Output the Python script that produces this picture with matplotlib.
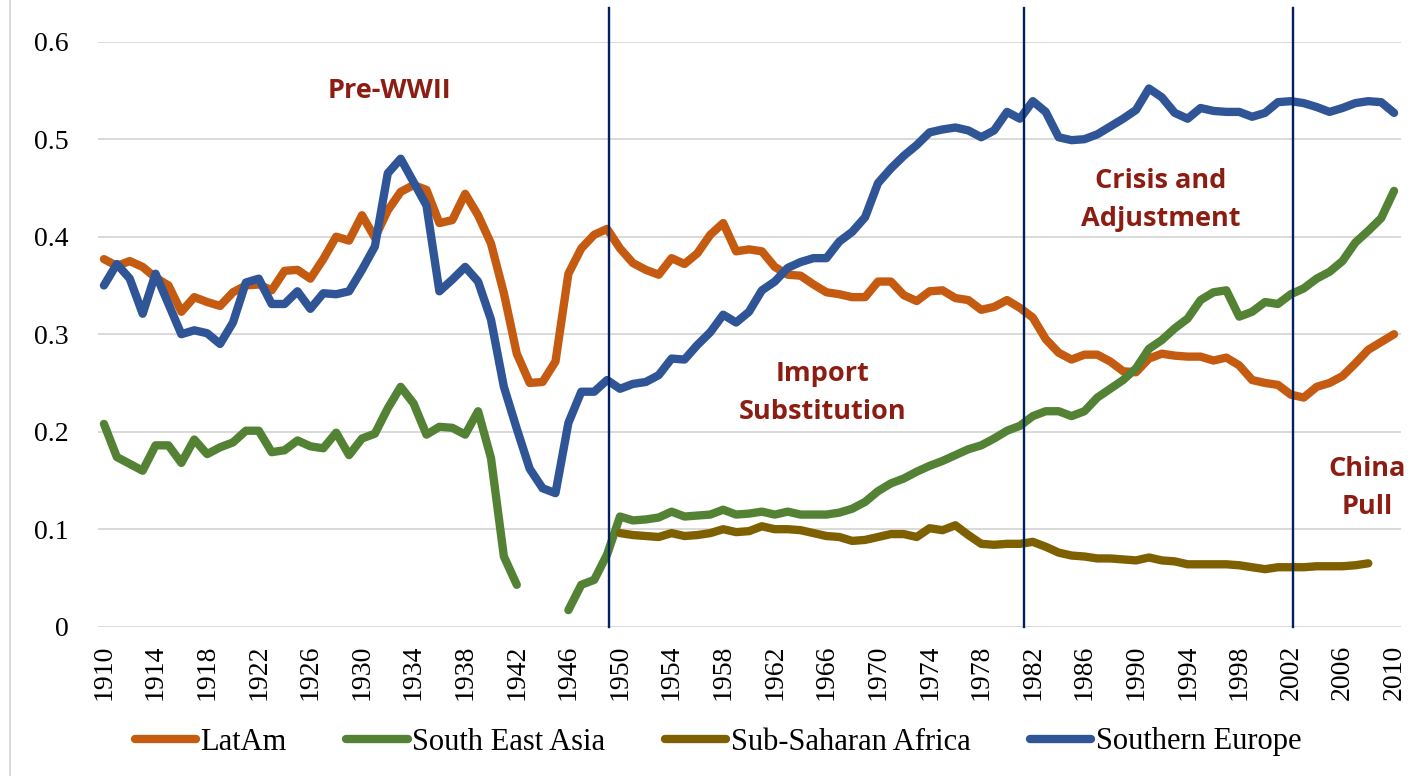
import numpy as np
import matplotlib
matplotlib.use("Agg")
import matplotlib.pyplot as plt
from matplotlib.lines import Line2D
from matplotlib.ticker import FuncFormatter
from matplotlib.font_manager import FontProperties

nan = np.nan

years = list(range(1910, 2011))

latam = [0.377, 0.370, 0.375, 0.369, 0.358, 0.350, 0.323, 0.338, 0.333, 0.329,
         0.343, 0.350, 0.351, 0.345, 0.365, 0.366, 0.357, 0.377, 0.400, 0.396,
         0.422, 0.399, 0.427, 0.446, 0.453, 0.448, 0.414, 0.417, 0.444, 0.422,
         0.393, 0.342, 0.280, 0.250, 0.251, 0.272, 0.362, 0.388, 0.402, 0.408,
         0.388, 0.373, 0.366, 0.361, 0.378, 0.372, 0.383, 0.402, 0.414, 0.385,
         0.387, 0.385, 0.369, 0.361, 0.360, 0.351, 0.343, 0.341, 0.338, 0.338,
         0.354, 0.354, 0.340, 0.334, 0.344, 0.345, 0.337, 0.335, 0.325, 0.328,
         0.335, 0.327, 0.317, 0.295, 0.281, 0.274, 0.279, 0.279, 0.272, 0.262,
         0.261, 0.275, 0.280, 0.278, 0.277, 0.277, 0.273, 0.276, 0.268, 0.253,
         0.250, 0.248, 0.238, 0.235, 0.246, 0.250, 0.257, 0.270, 0.284, 0.292,
         0.300]

south_east_asia = [0.208, 0.174, 0.167, 0.160, 0.186, 0.186, 0.168, 0.192, 0.177, 0.184,
                   0.189, 0.201, 0.201, 0.179, 0.181, 0.191, 0.185, 0.183, 0.199, 0.176,
                   0.193, 0.198, 0.224, 0.246, 0.229, 0.197, 0.205, 0.204, 0.197, 0.221,
                   0.173, 0.072, 0.043, nan, nan, nan, 0.017, 0.043, 0.048, 0.074,
                   0.113, 0.109, 0.110, 0.112, 0.118, 0.113, 0.114, 0.115, 0.120, 0.115,
                   0.116, 0.118, 0.115, 0.118, 0.115, 0.115, 0.115, 0.117, 0.121, 0.128,
                   0.139, 0.147, 0.152, 0.159, 0.165, 0.170, 0.176, 0.182, 0.186, 0.193,
                   0.201, 0.206, 0.216, 0.221, 0.221, 0.216, 0.221, 0.235, 0.244, 0.253,
                   0.265, 0.285, 0.294, 0.306, 0.316, 0.335, 0.343, 0.345, 0.318, 0.323,
                   0.333, 0.331, 0.341, 0.347, 0.357, 0.364, 0.375, 0.394, 0.406, 0.419,
                   0.447]

ssa_years = list(range(1950, 2009))
sub_saharan_africa = [0.096, 0.094, 0.093, 0.092, 0.096, 0.093, 0.094, 0.096, 0.100, 0.097,
                      0.098, 0.103, 0.100, 0.100, 0.099, 0.096, 0.093, 0.092, 0.088, 0.089,
                      0.092, 0.095, 0.095, 0.092, 0.101, 0.099, 0.104, 0.094, 0.085, 0.084,
                      0.085, 0.085, 0.087, 0.082, 0.076, 0.073, 0.072, 0.070, 0.070, 0.069,
                      0.068, 0.071, 0.068, 0.067, 0.064, 0.064, 0.064, 0.064, 0.063, 0.061,
                      0.059, 0.061, 0.061, 0.061, 0.062, 0.062, 0.062, 0.063, 0.065]

southern_europe = [0.350, 0.372, 0.357, 0.321, 0.362, 0.331, 0.300, 0.304, 0.301, 0.290,
                   0.312, 0.353, 0.357, 0.331, 0.331, 0.344, 0.326, 0.342, 0.341, 0.344,
                   0.366, 0.390, 0.465, 0.480, 0.456, 0.432, 0.344, 0.356, 0.369, 0.354,
                   0.315, 0.246, 0.203, 0.162, 0.142, 0.137, 0.209, 0.241, 0.241, 0.253,
                   0.244, 0.249, 0.251, 0.258, 0.275, 0.274, 0.289, 0.302, 0.320, 0.312,
                   0.323, 0.345, 0.354, 0.368, 0.374, 0.378, 0.378, 0.395, 0.405, 0.420,
                   0.455, 0.470, 0.483, 0.494, 0.507, 0.510, 0.512, 0.509, 0.502, 0.509,
                   0.528, 0.521, 0.539, 0.528, 0.502, 0.499, 0.500, 0.505, 0.513, 0.521,
                   0.530, 0.552, 0.543, 0.527, 0.521, 0.532, 0.529, 0.528, 0.528, 0.523,
                   0.527, 0.538, 0.539, 0.537, 0.533, 0.528, 0.532, 0.537, 0.539, 0.538,
                   0.527]

series_labels = ["LatAm", "South East Asia", "Sub-Saharan Africa", "Southern Europe"]
series_colors = ["#C55A11", "#548235", "#7F6000", "#2F5597"]

period_breaks = [1949.15, 1981.35, 2002.2]
period_labels = ["Pre-WWII", "Import\nSubstitution", "Crisis and\nAdjustment", "China\nPull"]
period_label_pos = [(1932.1, 0.549), (1965.7, 0.240), (1991.9, 0.438), (2007.9, 0.142)]

xtick_years = list(range(1910, 2011, 4))
yticks = [0, 0.1, 0.2, 0.3, 0.4, 0.5, 0.6]

W, H = 1412, 776
fig = plt.figure(figsize=(W / 100, H / 100), dpi=100)
ax = fig.add_axes([97.5 / W, 1 - 626.7 / H, (1400.5 - 97.5) / W, (626.7 - 41.7) / H])

lw = 6.0
xs = [years, years, ssa_years, years]
ys = [latam, south_east_asia, sub_saharan_africa, southern_europe]
handles = []
for x, y, c, lab in zip(xs, ys, series_colors, series_labels):
    ln, = ax.plot(x, y, color=c, lw=lw, label=lab, solid_capstyle="round",
                  solid_joinstyle="round", zorder=3)
    handles.append(ln)

for b in period_breaks:
    ax.axvline(b, ymin=0, ymax=(626.7 - 8) / 585.0, color="#002060", lw=1.7,
               zorder=5, clip_on=False)

for (px, py), s in zip(period_label_pos, period_labels):
    ax.text(px, py, s, ha="center", va="center", family="Open Sans",
            fontweight="bold", fontsize=19.5, color="#8C1D13", linespacing=1.6,
            zorder=6)

ax.set_xlim(1909.5, 2010.5)
ax.set_ylim(0, 0.6)
ax.set_xticks(xtick_years)
ax.set_xticklabels([str(v) for v in xtick_years], rotation=90,
                   family="Liberation Serif", fontsize=20)
ax.set_yticks(yticks)
ax.yaxis.set_major_formatter(FuncFormatter(lambda v, p: "0" if v == 0 else f"{v:.1f}"))
for t in ax.get_yticklabels():
    t.set_family("Liberation Serif")
    t.set_fontsize(20)
ax.tick_params(axis="x", length=0, pad=13)
ax.tick_params(axis="y", length=0, pad=21)
ax.yaxis.grid(True, color="#D9D9D9", lw=1.4)
ax.set_axisbelow(True)
for sp in ax.spines.values():
    sp.set_visible(False)

fig.add_artist(Line2D([10 / W, 10 / W], [0, 1], transform=fig.transFigure,
                      color="#D9D9D9", lw=1.4))

fig.legend(handles, series_labels, loc="center", bbox_to_anchor=(718 / W, 1 - 742 / H),
           ncol=4, frameon=False, prop=FontProperties(family="Liberation Serif", size=22),
           handlelength=2.0, handletextpad=0.15, columnspacing=1.95)

fig.savefig("out.png", dpi=100)
